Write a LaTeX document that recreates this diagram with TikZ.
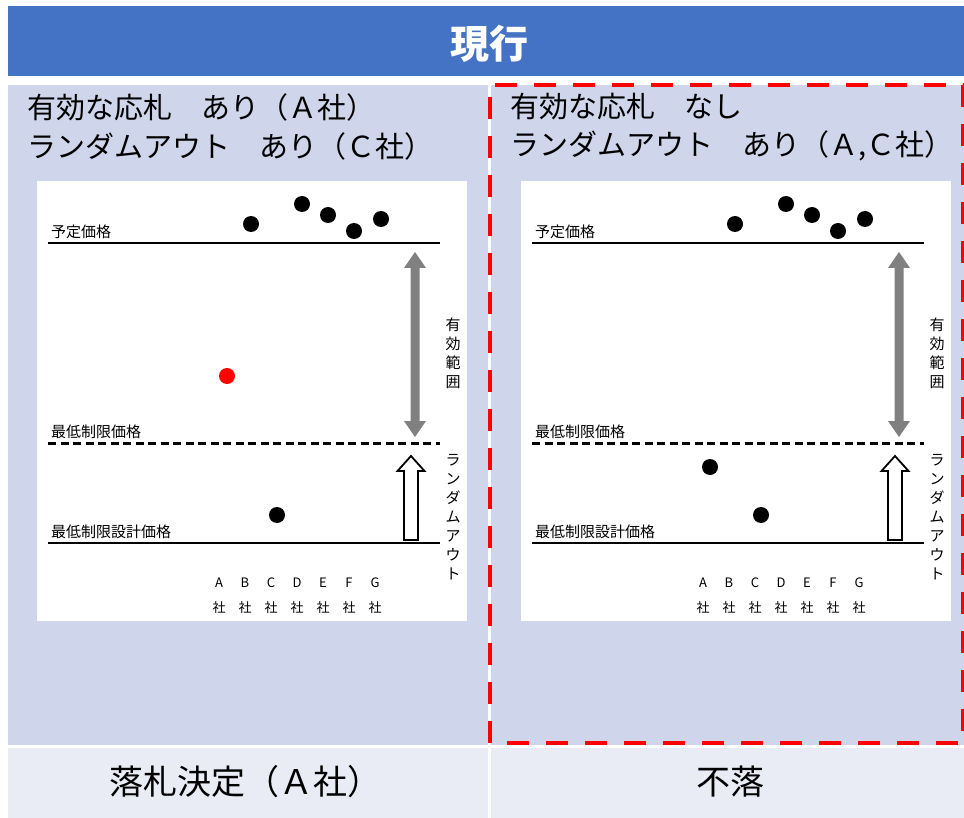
\documentclass[tikz,border=0pt]{standalone}
\usepackage{fontspec}
\setmainfont{Noto Sans CJK JP}
\definecolor{hdrblue}{HTML}{4472C4}
\definecolor{pnlblue}{HTML}{CFD5EA}
\definecolor{botblue}{HTML}{E9EBF5}
\definecolor{redline}{HTML}{FF0000}
\definecolor{grayarr}{HTML}{808080}
\tikzset{
  dot/.style={circle, fill=black, minimum size=16pt, inner sep=0pt},
  reddot/.style={dot, fill=redline},
  lbl/.style={anchor=west, inner sep=0pt, font=\fontsize{15}{17}\selectfont},
  head/.style={anchor=west, inner sep=0pt, font=\fontsize{29}{32}\selectfont},
  vtext/.style={align=center, inner sep=0pt, font=\fontsize{15}{19}\selectfont},
  comp/.style={align=center, inner sep=0pt, font=\fontsize{13}{25}\selectfont},
  result/.style={inner sep=0pt, font=\fontsize{34}{36}\selectfont},
  priceline/.style={line width=1.2pt},
  minline/.style={line width=3pt, dash pattern=on 8pt off 4.5pt},
}
\newcommand{\bidchart}[2]{%
\begin{scope}[xshift=#2]
  \fill[white] (37,181) rectangle (467,621);
  \coordinate (#1ys) at (48,243); \coordinate (#1ye) at (440,243);
  \coordinate (#1ms) at (48,443); \coordinate (#1me) at (440,443);
  \coordinate (#1ds) at (48,543); \coordinate (#1de) at (440,543);
  \draw[priceline] (#1ys) -- (#1ye);
  \draw[minline] (#1ms) -- (#1me);
  \draw[priceline] (#1ds) -- (#1de);
  \node[lbl] (#1yl) at (51,232) {予定価格};
  \node[lbl] (#1ml) at (51,432) {最低制限価格};
  \node[lbl] (#1dl) at (51,532) {最低制限設計価格};
  \node[dot] (#1b) at (251,224) {};
  \node[dot] (#1d) at (302,204) {};
  \node[dot] (#1e) at (328,215) {};
  \node[dot] (#1f) at (354,231) {};
  \node[dot] (#1g) at (381,219) {};
  \node[dot] (#1c) at (277,515) {};
  \fill[grayarr] (415,252) -- (426,268) -- (419.5,268) -- (419.5,421) -- (426,421)
    -- (415,437) -- (404,421) -- (410.5,421) -- (410.5,268) -- (404,268) -- cycle;
  \draw[line width=1.8pt, fill=white, line join=miter] (411,456) -- (424.5,471) -- (418,471)
    -- (418,540) -- (404,540) -- (404,471) -- (397.5,471) -- cycle;
  \node[vtext] (#1v1) at (453,353) {有\\効\\範\\囲};
  \node[vtext] (#1v2) at (453,517) {ラ\\ン\\ダ\\ム\\ア\\ウ\\ト};
  \node[comp] (#1cA) at (219,596) {A\\社};
  \node[comp] (#1cB) at (245,596) {B\\社};
  \node[comp] (#1cC) at (271,596) {C\\社};
  \node[comp] (#1cD) at (297,596) {D\\社};
  \node[comp] (#1cE) at (323,596) {E\\社};
  \node[comp] (#1cF) at (349,596) {F\\社};
  \node[comp] (#1cG) at (375,596) {G\\社};
\end{scope}}
\begin{document}
\begin{tikzpicture}[x=1pt,y=-1pt]
  \useasboundingbox (0,0) rectangle (964,818);
  \fill[white] (0,0) rectangle (964,818);
  % header
  \fill[hdrblue] (8,6) rectangle (964,76);
  \node[text=white, font=\fontsize{39}{42}\selectfont\bfseries, inner sep=0pt] (title) at (489,44) {現行};
  % panels
  \fill[pnlblue] (8,85) rectangle (488,745);
  \fill[pnlblue] (491,85) rectangle (964,745);
  \fill[botblue] (8,748) rectangle (488,818);
  \fill[botblue] (491,748) rectangle (964,818);
  % headings
  \node[head] (lh1) at (27,107) {有効な応札　あり（Ａ社）};
  \node[head] (lh2) at (27,146) {ランダムアウト　あり（Ｃ社）};
  \node[head] (rh1) at (510,107) {有効な応札　なし};
  \node[head] (rh2) at (510,146) {ランダムアウト　あり（Ａ,Ｃ社）};
  % charts
  \bidchart{L}{0pt}
  \bidchart{R}{484pt}
  \node[reddot] (La) at (227,376) {};
  \node[dot] (Ra) at (710,467) {};
  % red dashed frame
  \draw[redline, line width=4.5pt, dash pattern=on 22pt off 17pt] (490,743) -- (490,85) -- (963,85) -- (963,743) -- cycle;
  % results
  \node[result] (lres) at (245,782) {落札決定（Ａ社）};
  \node[result] (rres) at (730,782) {不落};
\end{tikzpicture}
\end{document}
